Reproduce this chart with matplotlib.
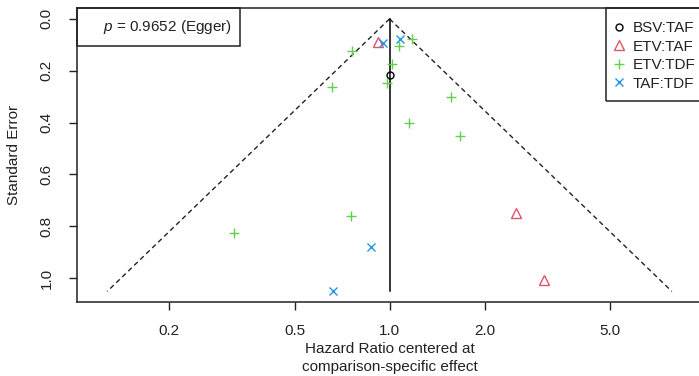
import numpy as np
import matplotlib
matplotlib.use("Agg")
import matplotlib.pyplot as plt
from matplotlib.patches import Rectangle
from matplotlib.lines import Line2D

plt.rcParams['font.family'] = ['Liberation Sans', 'DejaVu Sans']
plt.rcParams['mathtext.fontset'] = 'custom'
plt.rcParams['mathtext.rm'] = 'Liberation Sans'
plt.rcParams['mathtext.it'] = 'Liberation Sans:italic'

# ---- data ----
comparisons = ["BSV:TAF", "ETV:TAF", "ETV:TDF", "TAF:TDF"]

bsv_taf_hr = [1.0]
bsv_taf_se = [0.216]

etv_taf_hr = [0.92, 2.51, 3.095]
etv_taf_se = [0.088, 0.749, 1.006]

etv_tdf_hr = [0.759, 1.175, 1.07, 1.016, 0.984, 0.659, 1.567, 1.155, 1.673, 0.755, 0.321]
etv_tdf_se = [0.122, 0.077, 0.106, 0.173, 0.248, 0.261, 0.300, 0.403, 0.452, 0.760, 0.826]

taf_tdf_hr = [0.95, 1.08, 0.872, 0.660]
taf_tdf_se = [0.093, 0.079, 0.878, 1.051]

xticks = [0.2, 0.5, 1.0, 2.0, 5.0]
yticks = [0.0, 0.2, 0.4, 0.6, 0.8, 1.0]
egger_p = 0.9652

series_hr = [bsv_taf_hr, etv_taf_hr, etv_tdf_hr, taf_tdf_hr]
series_se = [bsv_taf_se, etv_taf_se, etv_tdf_se, taf_tdf_se]

# ---- styling ----
colors = ['black', '#DF536B', '#61D04F', '#2297E6']
markers = ['o', '^', '+', 'x']
msizes = [5.0, 6.5, 7.5, 6.0]
ink = '#222222'

W, H = 699, 376
fig = plt.figure(figsize=(W / 100, H / 100), dpi=100)
ax_left, ax_right, ax_top, ax_bottom = 77, 702, 8, 302
aw, ah = ax_right - ax_left, ax_bottom - ax_top
ax = fig.add_axes([ax_left / W, 1 - ax_bottom / H, aw / W, ah / H])

ax.set_xscale('log')
ax.set_xlim(0.1022, 9.78)
ax.set_ylim(1.092, -0.042)

# funnel
se_max = max(max(s) for s in series_se)
se_line = np.array([0.0, se_max])
ax.plot(np.exp(-1.96 * se_line), se_line, color=ink, lw=1.0, dashes=(3.5, 2.5))
ax.plot(np.exp(1.96 * se_line), se_line, color=ink, lw=1.0, dashes=(3.5, 2.5))
ax.plot([1.0, 1.0], [0.0, se_max], color='black', lw=1.1)

handles = []
for name, hr, se, c, m, ms in zip(comparisons, series_hr, series_se, colors, markers, msizes):
    if m in ('+', 'x'):
        ax.plot(hr, se, linestyle='none', marker=m, color=c, ms=ms, mew=1.0)
    else:
        ax.plot(hr, se, linestyle='none', marker=m, mfc='none', mec=c, ms=ms, mew=1.0)
    handles.append(Line2D([], [], linestyle='none', marker=m, color=c, mfc='none', mec=c, ms=ms, mew=1.0, label=name))

ax.set_xticks(xticks)
ax.set_xticklabels([f"{v:.1f}" for v in xticks])
ax.xaxis.set_minor_locator(matplotlib.ticker.NullLocator())
ax.set_yticks(yticks)
ax.set_yticklabels([f"{v:.1f}" for v in yticks])

ax.tick_params(axis='both', direction='out', length=6, width=1.0, labelsize=11, color=ink, labelcolor=ink)
ax.tick_params(axis='x', pad=10)
ax.tick_params(axis='y', pad=11, labelrotation=90)
for lab in ax.get_yticklabels():
    lab.set_va('center')

for s in ax.spines.values():
    s.set_linewidth(1.1)
    s.set_color(ink)

ax.set_xlabel("Hazard Ratio centered at\ncomparison-specific effect", fontsize=11, color=ink, labelpad=3, linespacing=1.3)
ax.set_ylabel("Standard Error", fontsize=11, color=ink, labelpad=13)

# Egger box
ax.add_patch(Rectangle((0, 1 - 38 / ah), 163 / aw, 38 / ah, transform=ax.transAxes,
                       fill=False, edgecolor=ink, lw=1.1, clip_on=False, zorder=5))
ax.text(155 / aw, 1 - 19 / ah, f"$p$ = {egger_p:.4f} (Egger)", transform=ax.transAxes,
        ha='right', va='center', fontsize=11, color=ink)

# Legend box (frame drawn separately, like R's topright legend)
ax.add_patch(Rectangle(((606 - ax_left) / aw, 1 - 93 / ah), 120 / aw, 93 / ah, transform=ax.transAxes,
                       fill=False, edgecolor=ink, lw=1.1, clip_on=False, zorder=5))
leg = ax.legend(handles=handles, loc='upper left', bbox_to_anchor=((613 - ax_left) / aw, 1 - 13 / ah),
                borderaxespad=0, frameon=False, fontsize=11, handlelength=0.8,
                handletextpad=0.5, labelspacing=0.3, borderpad=0)
for t in leg.get_texts():
    t.set_color(ink)

fig.savefig("out.png", dpi=100)
